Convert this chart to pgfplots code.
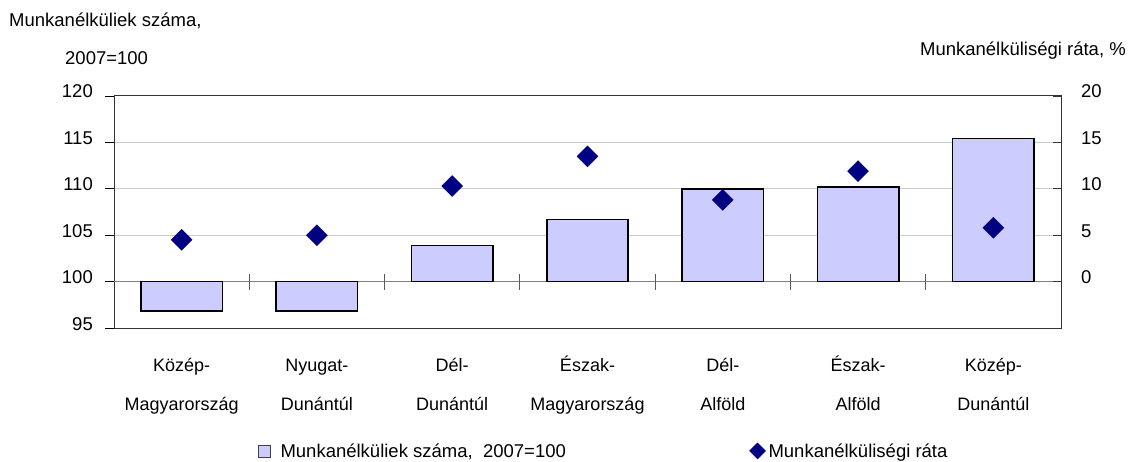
\documentclass[border=0pt]{standalone}
\usepackage{fontspec}
\setmainfont{Liberation Sans}
\usepackage{pgfplots}
\usepackage{pgfplotstable}
\pgfplotsset{compat=1.18}
\definecolor{barfill}{HTML}{CCCCFF}
\definecolor{navyc}{HTML}{000080}
\pgfplotstableread{
x count rate
0 96.8 4.5
1 96.8 5.0
2 103.9 10.3
3 106.7 13.5
4 110.0 8.8
5 110.2 11.9
6 115.4 5.8
}\data
\newcommand\f{\fontsize{18.5bp}{22bp}\selectfont}
\begin{document}
\begin{tikzpicture}
\path[use as bounding box] (0,0) rectangle (1131bp,462bp);
\begin{axis}[
  at={(114bp,134bp)}, anchor=south west,
  scale only axis, width=947bp, height=232bp,
  xmin=-0.5, xmax=6.5, ymin=-5, ymax=20,
  xtick={0,...,6},
  xticklabels={{Közép-\\Magyarország},{Nyugat-\\Dunántúl},{Dél-\\Dunántúl},{Észak-\\Magyarország},{Dél-\\Alföld},{Észak-\\Alföld},{Közép-\\Dunántúl}},
  xtick style={draw=none},
  xticklabel style={font=\fontsize{18bp}{39bp}\selectfont, align=center, anchor=base, inner sep=0pt, yshift=-73bp},
  ytick={-5,0,...,20},
  yticklabels={95,100,105,110,115,120},
  ytick pos=left,
  tick align=outside,
  major tick length=9bp,
  ytick style={black, line width=0.8bp},
  yticklabel style={font=\f, anchor=base east, inner sep=0pt, xshift=-12bp, yshift=-2bp},
  ymajorgrids, grid style={black!20, line width=1bp},
  extra y ticks={0}, extra y tick labels={}, extra y tick style={grid style={black!50, line width=1bp}},
  axis line style={black!80, line width=1bp},
  legend style={at={(axis description cs:0.152,-0.53)}, anchor=west, draw=none, fill=none, inner sep=0pt, legend columns=2, font=\f, nodes={inner sep=0pt}, column sep=0pt},
]
\addplot[ybar, bar width=81.5bp, bar shift=0pt, fill=barfill, draw=black, line width=1.6bp,
  legend image code/.code={\path[draw=none, fill=none] (0,0) -- (22bp,0); \draw[fill=barfill, draw=black!75, line width=0.8bp] (0,-6bp) rectangle (12bp,6bp);}]
  table[x=x, y expr=\thisrow{count}-100] {\data};
\addlegendentry{\makebox[468bp][l]{Munkanélküliek száma,\ \ 2007=100}}
\addlegendimage{legend image code/.code={\path[draw=none, fill=none] (0,0) -- (20bp,0); \fill[navyc] (9bp,0) +(0,8bp) -- +(8bp,0) -- +(0,-8bp) -- +(-8bp,0) -- cycle;}}
\addlegendentry{Munkanélküliségi ráta}
\pgfplotsinvokeforeach{0.5,1.5,2.5,3.5,4.5,5.5}{\draw[black!65, line width=1bp] ([yshift=-8bp]axis cs:#1,0) -- ([yshift=8bp]axis cs:#1,0);}
\end{axis}
\begin{axis}[
  at={(114bp,134bp)}, anchor=south west,
  scale only axis, width=947bp, height=232bp,
  xmin=-0.5, xmax=6.5, ymin=-5, ymax=20,
  axis x line=none, axis y line*=right,
  ytick={0,5,...,20},
  yticklabels={0,5,10,15,20},
  tick align=inside,
  major tick length=8bp,
  ytick style={black!80, line width=0.8bp},
  yticklabel style={font=\f, anchor=base west, inner sep=0pt, xshift=20bp, yshift=-2bp},
  axis line style={black!80, line width=1bp},
]
\addplot[only marks, mark=square*, mark size=7.4bp, mark options={rotate=45, fill=navyc, draw=navyc}]
  table[x=x, y=rate] {\data};
\end{axis}
\node[anchor=base west, inner sep=0pt, font=\f] at (9bp,435bp) {Munkanélküliek száma,};
\node[anchor=base west, inner sep=0pt, font=\f] at (65bp,397bp) {2007=100};
\node[anchor=base east, inner sep=0pt, font=\f] at (1126bp,406bp) {Munkanélküliségi ráta, \%};
\end{tikzpicture}
\end{document}
